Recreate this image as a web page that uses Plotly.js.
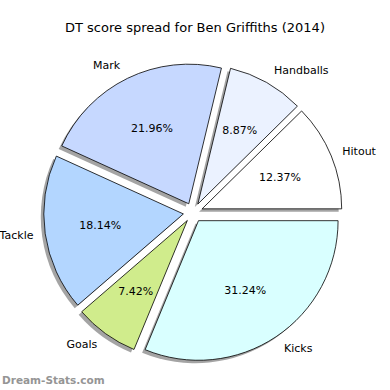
<!DOCTYPE html>
<html>
<head>
<meta charset="utf-8">
<script src="https://cdn.plot.ly/plotly-3.0.1.min.js"></script>
<style>html,body{margin:0;padding:0;background:#fff;}#chart{width:390px;height:390px;}</style>
</head>
<body>
<div id="chart"></div>
<script>
const categories = ["Hitout", "Handballs", "Mark", "Tackle", "Goals", "Kicks"];
const shares = [12.37, 8.87, 21.96, 18.14, 7.42, 31.24];
const sliceColors = ["#FFFFFF", "#EBF2FF", "#C6D8FF", "#B3D6FF", "#D0EC8C", "#D9FFFF"];

const dom = {x: [0.112, 0.878], y: [0.072, 0.838]};
const sh = 3 / 390;
const clear = categories.map(() => "rgba(0,0,0,0)");

const common = {
  type: "pie",
  labels: categories,
  values: shares,
  sort: false,
  direction: "counterclockwise",
  rotation: 45.47,
  hoverinfo: "skip",
  showlegend: false
};

const shadow = Object.assign({}, common, {
  domain: {x: [dom.x[0] - sh, dom.x[1] - sh], y: [dom.y[0] - sh, dom.y[1] - sh]},
  pull: 0.07,
  marker: {colors: categories.map(() => "rgba(125,125,125,0.7)"), line: {width: 0}},
  textinfo: "none"
});

const main = Object.assign({}, common, {
  domain: dom,
  pull: 0.07,
  marker: {colors: sliceColors, line: {color: "#000000", width: 0.8}},
  textinfo: "none"
});

// percentages, placed in a transparent ring around 0.6 of the radius
const pct = Object.assign({}, common, {
  domain: {x: [0.1919, 0.7981], y: [0.1519, 0.7581]},
  pull: 0.09,
  hole: 0.55,
  marker: {colors: clear, line: {width: 0}},
  textinfo: "text",
  text: shares.map(v => v.toFixed(2) + "%"),
  textposition: "inside",
  insidetextorientation: "horizontal",
  insidetextfont: {family: "DejaVu Sans", size: 11, color: "#000000"}
});

const outer = Object.assign({}, common, {
  domain: {x: [0.0906, 0.8994], y: [0.0506, 0.8594]},
  pull: 0.13,
  marker: {colors: clear, line: {width: 0}},
  textinfo: "label",
  textposition: "outside",
  outsidetextfont: {family: "DejaVu Sans", size: 11, color: "#000000"},
  automargin: false
});

const layout = {
  width: 390,
  height: 390,
  margin: {l: 0, r: 0, t: 0, b: 0},
  paper_bgcolor: "#FFFFFF",
  title: {
    text: "DT score spread for Ben Griffiths (2014)",
    font: {family: "DejaVu Sans", size: 13, color: "#000000"},
    x: 0.5, xanchor: "center", yref: "container", y: 0.93, yanchor: "middle"
  },
  annotations: [{
    text: "<b>Dream-Stats.com</b>",
    xref: "paper", yref: "paper", x: 0, y: 0.026,
    xanchor: "left", yanchor: "middle", showarrow: false,
    font: {family: "DejaVu Sans", size: 10.5, color: "#959595"}
  }]
};

Plotly.newPlot("chart", [shadow, main, pct, outer], layout, {staticPlot: true, displayModeBar: false});
</script>
</body>
</html>
